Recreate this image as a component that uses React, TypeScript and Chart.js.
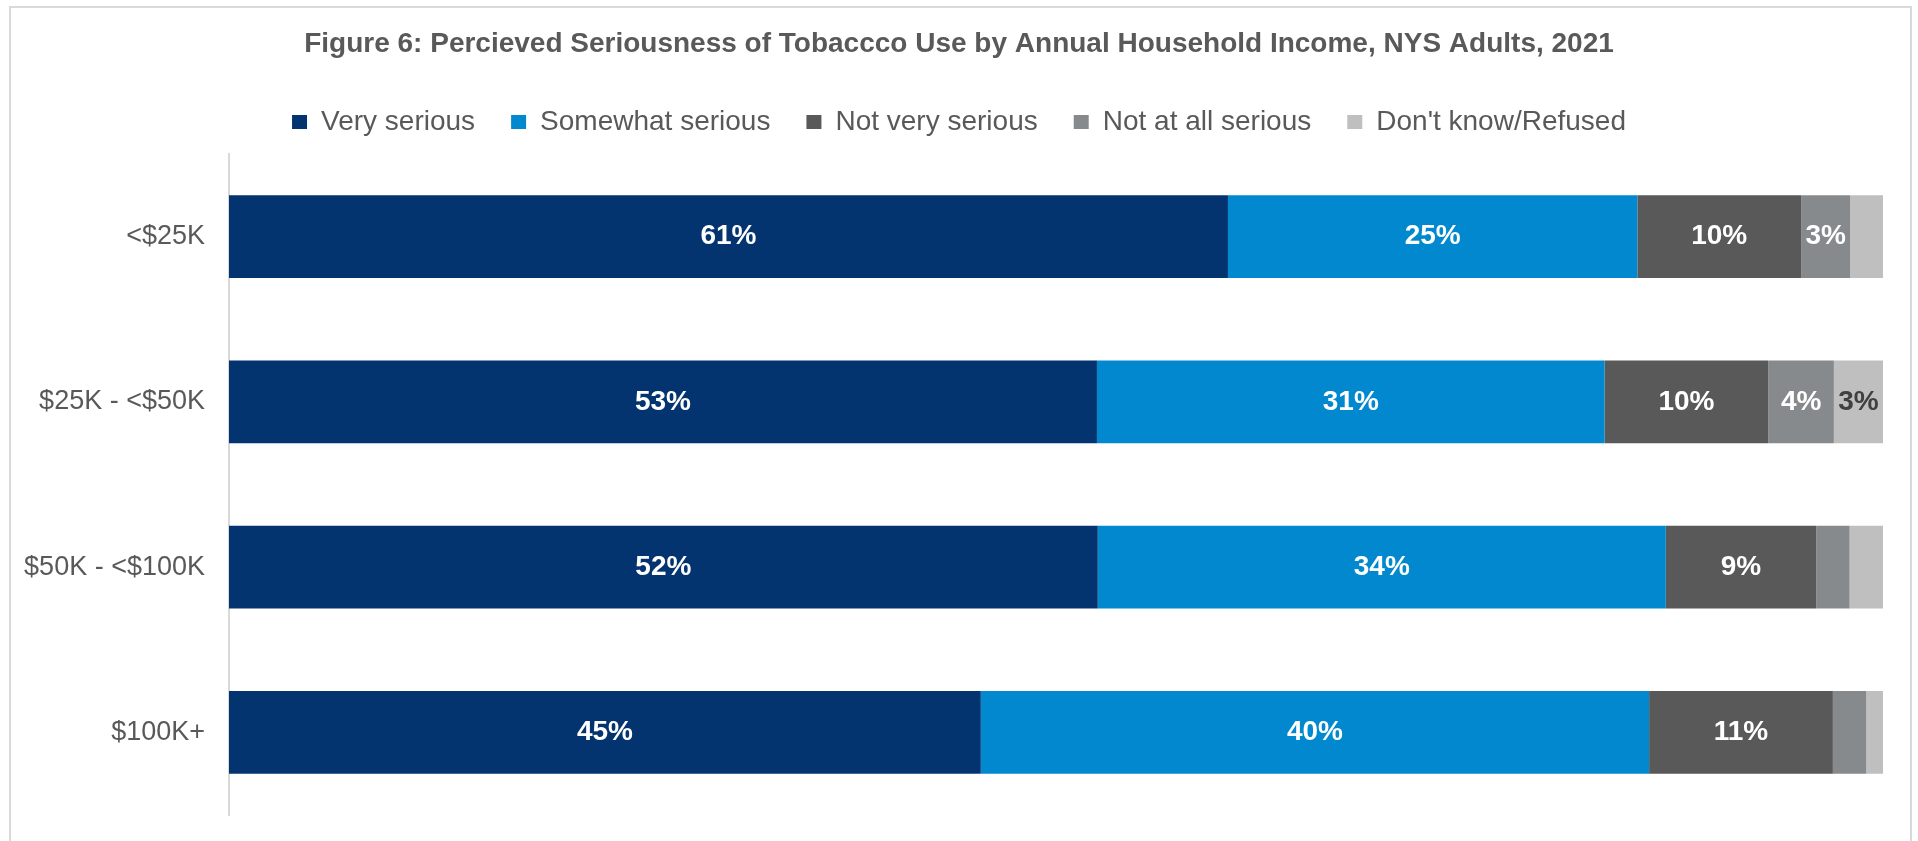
import React, { useEffect, useRef } from "react";
import { Chart, registerables } from "chart.js";

Chart.register(...registerables);

const titleText =
  "Figure 6: Percieved Seriousness of Tobaccco Use by Annual Household Income, NYS Adults, 2021";

const categories = ["<$25K", "$25K - <$50K", "$50K - <$100K", "$100K+"];

const seriesNames = [
  "Very serious",
  "Somewhat serious",
  "Not very serious",
  "Not at all serious",
  "Don't know/Refused",
];

const verySerious = [61, 53, 52, 45];
const somewhatSerious = [25, 31, 34, 40];
const notVerySerious = [10, 10, 9, 11];
const notAtAllSerious = [3, 4, 2, 2];
const dontKnow = [2, 3, 2, 1];

const seriesValues = [verySerious, somewhatSerious, notVerySerious, notAtAllSerious, dontKnow];

const seriesColors = ["#04346F", "#0288CF", "#595959", "#878A8D", "#BFBFBF"];
const labelColors = ["#FFFFFF", "#FFFFFF", "#FFFFFF", "#FFFFFF", "#404040"];

const FONT = "'Liberation Sans', Arial, Helvetica, sans-serif";
const TEXT_GREY = "#595959";

// Each row is shown as a 100% stacked bar (shares of the row total).
const rowTotals = categories.map((_, i) =>
  seriesValues.reduce((s, arr) => s + arr[i], 0)
);

const dataLabelPlugin = {
  id: "dataLabels",
  afterDatasetsDraw(chart: any) {
    const ctx = chart.ctx;
    ctx.save();
    ctx.font = `bold 28px ${FONT}`;
    ctx.textAlign = "center";
    ctx.textBaseline = "middle";
    chart.data.datasets.forEach((ds: any, d: number) => {
      const meta = chart.getDatasetMeta(d);
      if (meta.hidden) return;
      meta.data.forEach((bar: any, i: number) => {
        const v = seriesValues[d][i];
        if (v < 3) return;
        const p = bar.getProps(["x", "y", "base"], true);
        ctx.fillStyle = labelColors[d];
        ctx.fillText(`${v}%`, (p.x + p.base) / 2, p.y);
      });
    });
    ctx.restore();
  },
};

export default function App() {
  const canvasRef = useRef<HTMLCanvasElement | null>(null);

  useEffect(() => {
    const canvas = canvasRef.current;
    if (!canvas) return;
    const chart = new Chart(canvas, {
      type: "bar",
      data: {
        labels: categories,
        datasets: seriesNames.map((name, d) => ({
          label: name,
          data: seriesValues[d].map((v, i) => (v / rowTotals[i]) * 100),
          backgroundColor: seriesColors[d],
          borderColor: seriesColors[d],
          borderWidth: 0,
          barPercentage: 0.5,
          categoryPercentage: 1,
        })),
      },
      options: {
        indexAxis: "y",
        responsive: false,
        animation: false,
        devicePixelRatio: 1,
        layout: { padding: { top: 0, left: 0, right: 0, bottom: 26 } },
        font: { family: FONT },
        scales: {
          x: {
            type: "linear",
            stacked: true,
            min: 0,
            max: 100,
            display: false,
          },
          y: {
            type: "category",
            stacked: true,
            grid: { display: false, drawTicks: true, tickLength: 24 },
            border: { display: true, color: "#D9D9D9", width: 2 },
            ticks: {
              padding: 0,
              color: TEXT_GREY,
              font: { family: FONT, size: 27 },
            },
            afterFit: (scale: any) => {
              scale.width = 229;
            },
          },
          yRight: {
            type: "category",
            position: "right",
            display: true,
            grid: { display: false, drawTicks: false },
            border: { display: false },
            ticks: { display: false },
            afterFit: (scale: any) => {
              scale.width = 35;
            },
          },
        },
        plugins: {
          title: {
            display: true,
            text: titleText,
            color: TEXT_GREY,
            font: { family: FONT, size: 28, weight: "bold" },
            padding: { top: 27, bottom: 11.4 },
          },
          legend: {
            display: true,
            position: "top",
            labels: {
              color: TEXT_GREY,
              font: { family: FONT, size: 28 },
              boxWidth: 15,
              boxHeight: 14,
              padding: 36,
            },
          },
          subtitle: {
            display: true,
            text: "",
            weight: 500,
            font: { size: 1, lineHeight: 1 },
            padding: { top: 0, bottom: 7 },
          } as any,
          tooltip: { enabled: false },
        },
      } as any,
      plugins: [dataLabelPlugin],
    });
    return () => chart.destroy();
  }, []);

  return (
    <div
      style={{
        position: "fixed",
        left: 0,
        top: 0,
        width: 1918,
        height: 841,
        overflow: "hidden",
        background: "#FFFFFF",
      }}
    >
      <canvas
        ref={canvasRef}
        width={1918}
        height={841}
        style={{ position: "absolute", left: 0, top: 0, display: "block" }}
      />
      <div
        style={{
          position: "absolute",
          left: 9,
          top: 6,
          width: 1903,
          height: 845,
          boxSizing: "border-box",
          border: "2px solid #D9D9D9",
          pointerEvents: "none",
        }}
      />
    </div>
  );
}
